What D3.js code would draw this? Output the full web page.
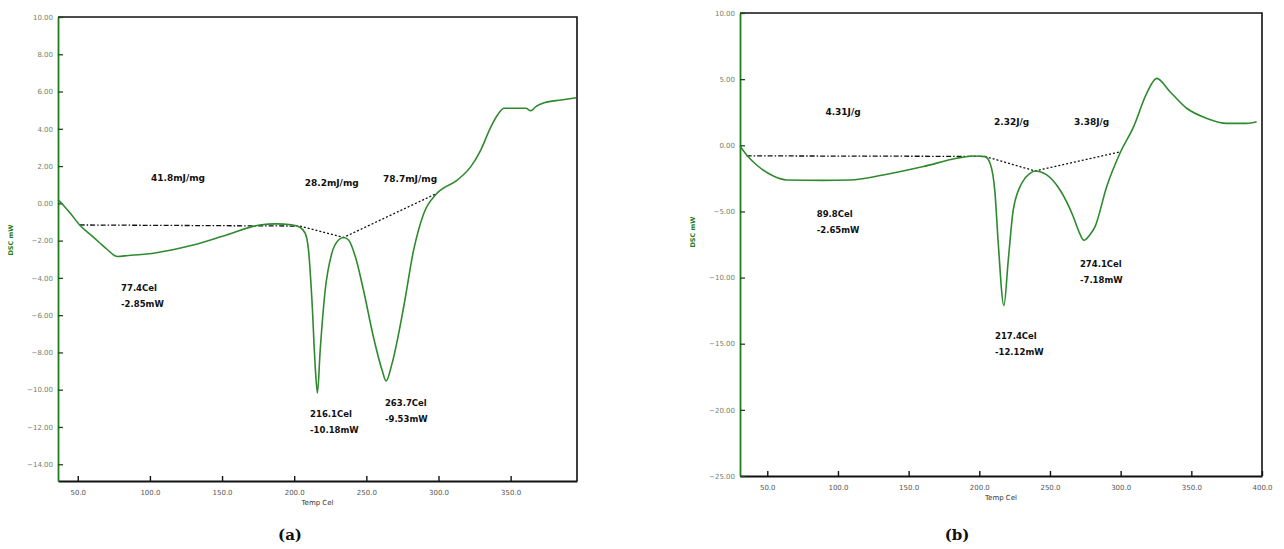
<!DOCTYPE html>
<html>
<head>
<meta charset="utf-8">
<script src="https://cdn.jsdelivr.net/npm/d3@7"></script>
<style>
  body { margin: 0; background: #fff; }
  svg { display: block; }
</style>
</head>
<body>
<svg id="chart" width="1284" height="549"></svg>
<script>
// ---- panel (a) data ----
var tempA = [36.3, 40, 45, 51.3, 60, 65.5, 70, 77.4, 85, 97.6, 115, 130, 153, 176, 187.6, 198, 204, 207.6, 209.9,
  212.3, 214.6, 216.1, 218, 221.5, 226, 230.7, 234.2, 237.7, 242.4, 248, 255, 260.9, 263.7, 267.8, 275.9, 282.8,
  289.8, 299, 313, 322.4, 329.3, 336.3, 340.9, 345.5, 360.6, 364, 367.5, 373.3, 385, 395.5];
var dscA = [0.2, -0.1, -0.55, -1.16, -1.76, -2.14, -2.45, -2.85, -2.8, -2.72, -2.5, -2.24, -1.7, -1.16, -1.1, -1.15,
  -1.29, -1.6, -2.5, -5.2, -8.8, -10.18, -7.9, -4.65, -2.7, -1.97, -1.83, -1.97, -2.87, -4.65, -7.2, -8.95, -9.53,
  -8.6, -5.55, -2.5, -0.54, 0.54, 1.25, 1.97, 2.86, 4.1, 4.74, 5.1, 5.1, 4.97, 5.19, 5.4, 5.55, 5.67];
var baseTempA = [51.3, 204, 234.2, 299];
var baseDscA = [-1.16, -1.22, -1.83, 0.54];
var noteTextA = ["41.8mJ/mg", "28.2mJ/mg", "78.7mJ/mg"];
var noteTempA = [119.5, 226, 280.3];
var noteDscA = [1.36, 1.09, 1.3];
var peakTextA = [["77.4Cel", "-2.85mW"], ["216.1Cel", "-10.18mW"], ["263.7Cel", "-9.53mW"]];
var peakTempA = [80, 211, 262.9];
var peakDscA = [-4.55, -11.28, -10.74];
var xTicksA = [50, 100, 150, 200, 250, 300, 350];
var yTicksA = [10, 8, 6, 4, 2, 0, -2, -4, -6, -8, -10, -12, -14];

// ---- panel (b) data ----
var tempB = [30.7, 35.4, 42.5, 54.3, 63.7, 89.6, 108.5, 132.1, 160.4, 184.1, 195.8, 204, 207.6, 211.1, 213.4, 217.4,
  220.5, 224, 230, 235.9, 239.4, 247.7, 257.1, 266.5, 270, 274.1, 278, 281.9, 290.1, 299.5, 309.2, 318.4, 325.5,
  334.9, 346.7, 360.9, 375, 389.2, 396.2];
var dscB = [-0.05, -0.73, -1.49, -2.32, -2.62, -2.65, -2.62, -2.24, -1.61, -0.98, -0.81, -0.86, -1.36, -3.6, -7.4,
  -12.12, -8.67, -4.9, -2.87, -2.12, -1.94, -2.24, -3.38, -5.4, -6.4, -7.18, -6.8, -6.15, -3.13, -0.6, 1.41, 3.93,
  5.06, 4.05, 2.8, 2.04, 1.66, 1.66, 1.78];
var baseTempB = [35.4, 204, 239.4, 299.5];
var baseDscB = [-0.8, -0.84, -1.94, -0.5];
var noteTextB = ["4.31J/g", "2.32J/g", "3.38J/g"];
var noteTempB = [103.6, 222.9, 279.5];
var noteDscB = [2.49, 1.72, 1.72];
var peakTextB = [["89.8Cel", "-2.65mW"], ["217.4Cel", "-12.12mW"], ["274.1Cel", "-7.18mW"]];
var peakTempB = [85, 211.1, 271.2];
var peakDscB = [-5.2, -14.4, -9.0];
var xTicksB = [50, 100, 150, 200, 250, 300, 350, 400];
var yTicksB = [10, 5, 0, -5, -10, -15, -20, -25];

var green = "#2f8a2f", axisGreen = "#1f7f1f";
var svg = d3.select("#chart");

function drawPanel(p) {
  var x = d3.scaleLinear().domain(p.xDomain).range([p.left, p.right]);
  var y = d3.scaleLinear().domain(p.yDomain).range([p.bottom, p.top]);
  var g = svg.append("g");

  // frame top/right
  g.append("path")
    .attr("d", "M" + p.left + "," + p.top + "H" + p.right + "V" + p.bottom)
    .attr("fill", "none").attr("stroke", "#111").attr("stroke-width", 1.6);

  var xa = g.append("g").attr("transform", "translate(0," + p.bottom + ")")
    .call(d3.axisBottom(x).tickValues(p.xTicks).tickFormat(d3.format(".1f"))
      .tickSizeInner(-5).tickSizeOuter(0).tickPadding(9));
  xa.select(".domain").attr("stroke", "#111").attr("stroke-width", 2.2);
  xa.selectAll(".tick line").attr("stroke", "#111").attr("stroke-width", 1.4);
  xa.selectAll("text").attr("fill", "#555").style("font", "7px 'DejaVu Sans'");

  var ya = g.append("g").attr("transform", "translate(" + p.left + ",0)")
    .call(d3.axisLeft(y).tickValues(p.yTicks).tickFormat(d3.format(".2f"))
      .tickSizeInner(-5).tickSizeOuter(0).tickPadding(5));
  ya.select(".domain").attr("stroke", axisGreen).attr("stroke-width", 1.8);
  ya.selectAll(".tick line").attr("stroke", "#1b4d1b").attr("stroke-width", 1.3);
  ya.selectAll("text").attr("fill", "#6f7f6f").style("font", "7px 'DejaVu Sans'");

  g.append("text").attr("x", (p.left + p.right) / 2).attr("y", p.bottom + 24)
    .attr("text-anchor", "middle").attr("fill", "#333").style("font", "7px 'DejaVu Sans'")
    .text("Temp Cel");
  g.append("text")
    .attr("transform", "translate(" + p.yLabelX + "," + p.yLabelY + ") rotate(-90)")
    .attr("text-anchor", "middle").attr("fill", axisGreen).style("font", "bold 6.5px 'DejaVu Sans'")
    .text("DSC mW");

  // baseline: dash-dot then dotted
  var bl = d3.line().x(function (d) { return x(d[0]); }).y(function (d) { return y(d[1]); });
  var base = d3.zip(p.baseT, p.baseV);
  g.append("path").attr("d", bl(base.slice(0, 2)))
    .attr("fill", "none").attr("stroke", "#111").attr("stroke-width", 1.3)
    .attr("stroke-dasharray", "5,2,1.5,2");
  g.append("path").attr("d", bl(base.slice(1)))
    .attr("fill", "none").attr("stroke", "#111").attr("stroke-width", 1.3)
    .attr("stroke-dasharray", "2,2");

  // DSC curve
  var line = d3.line().curve(d3.curveMonotoneX)
    .x(function (d) { return x(d[0]); }).y(function (d) { return y(d[1]); });
  g.append("path").datum(d3.zip(p.temp, p.dsc)).attr("d", line)
    .attr("fill", "none").attr("stroke", green).attr("stroke-width", 1.6);

  // enthalpy notes
  g.selectAll(".note").data(p.noteText).enter().append("text").attr("class", "note")
    .attr("x", function (d, i) { return x(p.noteT[i]); })
    .attr("y", function (d, i) { return y(p.noteV[i]); })
    .attr("text-anchor", "middle").attr("dominant-baseline", "middle")
    .attr("fill", "#111").style("font", "bold 9px 'DejaVu Sans'")
    .text(function (d) { return d; });

  // peak labels
  var pk = g.selectAll(".peak").data(p.peakText).enter().append("text").attr("class", "peak")
    .attr("x", function (d, i) { return x(p.peakT[i]); })
    .attr("y", function (d, i) { return y(p.peakV[i]); })
    .attr("dominant-baseline", "middle")
    .attr("fill", "#111").style("font", "bold 8.5px 'DejaVu Sans'");
  pk.append("tspan").text(function (d) { return d[0]; });
  pk.append("tspan").attr("x", function (d, i) { return x(p.peakT[i]); }).attr("dy", 16)
    .text(function (d) { return d[1]; });

  svg.append("text").attr("x", p.capX).attr("y", 540).attr("text-anchor", "middle")
    .attr("fill", "#111").style("font", "bold 15px 'DejaVu Serif'").text(p.caption);
}

drawPanel({
  temp: tempA, dsc: dscA, baseT: baseTempA, baseV: baseDscA,
  noteText: noteTextA, noteT: noteTempA, noteV: noteDscA,
  peakText: peakTextA, peakT: peakTempA, peakV: peakDscA,
  xTicks: xTicksA, yTicks: yTicksA,
  xDomain: [36.3, 396], yDomain: [-14.9, 10],
  left: 58, right: 577, top: 17, bottom: 481,
  yLabelX: 13, yLabelY: 240, capX: 290, caption: "(a)"
});

drawPanel({
  temp: tempB, dsc: dscB, baseT: baseTempB, baseV: baseDscB,
  noteText: noteTextB, noteT: noteTempB, noteV: noteDscB,
  peakText: peakTextB, peakT: peakTempB, peakV: peakDscB,
  xTicks: xTicksB, yTicks: yTicksB,
  xDomain: [30.7, 400], yDomain: [-25, 10],
  left: 740, right: 1262, top: 13, bottom: 476,
  yLabelX: 695, yLabelY: 232, capX: 957, caption: "(b)"
});
</script>
</body>
</html>
